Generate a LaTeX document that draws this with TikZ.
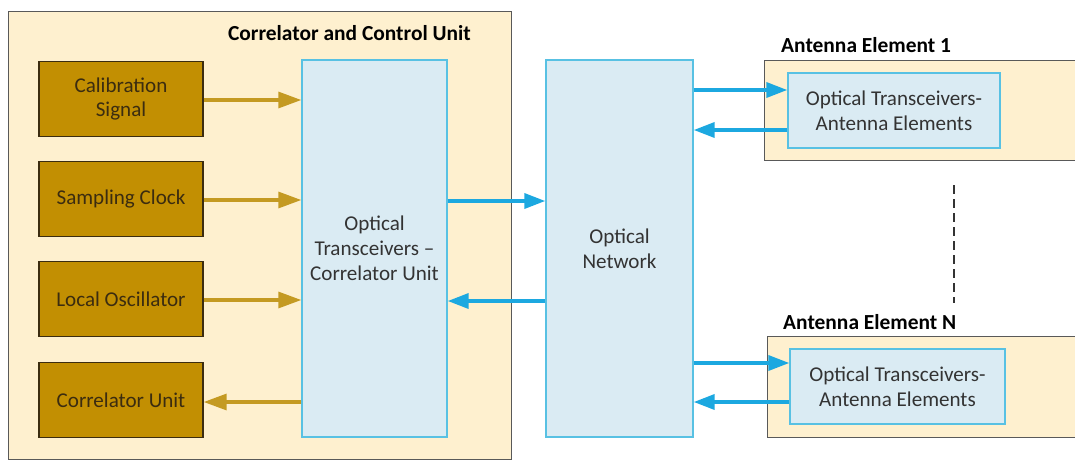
\documentclass[tikz,border=0pt]{standalone}
\usepackage{fontspec}
\setmainfont{Carlito}
\usetikzlibrary{arrows.meta, positioning}

\definecolor{cream}{HTML}{FEF0CF}
\definecolor{goldbox}{HTML}{C28F02}
\definecolor{goldline}{HTML}{C49A22}
\definecolor{goldtext}{HTML}{3B2C10}
\definecolor{paleblue}{HTML}{DAEBF3}
\definecolor{cyanline}{HTML}{58C1E3}
\definecolor{fiber}{HTML}{1CA8E0}

\tikzset{
  unit/.style={draw=gray!70!black, fill=cream, line width=0.8pt, anchor=north west},
  source/.style={draw=goldtext, fill=goldbox, text=goldtext, line width=0.8pt,
    minimum width=3.28cm, minimum height=1.5cm, align=center},
  trx/.style={draw=cyanline, fill=paleblue, text=black!80, line width=0.8pt, align=center},
  title/.style={font=\fontsize{12.2}{14.5}\selectfont\bfseries, text=black},
  goldarrow/.style={goldline, line width=1.8pt, -{Triangle[length=0.46cm, width=0.32cm]}},
  fiberarrow/.style={fiber, line width=2pt, -{Triangle[length=0.42cm, width=0.3cm]}}
}

\begin{document}
\begin{tikzpicture}[x=0.02cm, y=-0.02cm, font=\fontsize{12}{14.2}\selectfont]
    \useasboundingbox (0,0) rectangle (1075,460);

    % 1. Correlator and control unit with its sources
    \node[unit, minimum width=10.06cm, minimum height=8.96cm] (ccu) at (8,11) {};
    \node[title, anchor=east] (ccutitle) at (477,33) {Correlator and Control Unit};

    \node[source] (cal) at (121,99) {Calibration\\Signal};
    \node[source] (clk) at (121,199) {Sampling Clock};
    \node[source] (lo)  at (121,299) {Local Oscillator};
    \node[source] (cor) at (121,400) {Correlator Unit};

    \node[trx, minimum width=2.9cm, minimum height=7.54cm] (corr) at (374.5,248.5)
        {Optical\\Transceivers --\\Correlator Unit};

    \draw[goldarrow] (cal.east |- 0,100) -- (corr.west |- 0,100);
    \draw[goldarrow] (clk.east |- 0,200) -- (corr.west |- 0,200);
    \draw[goldarrow] (lo.east |- 0,300) -- (corr.west |- 0,300);
    \draw[goldarrow] (corr.west |- 0,402) -- (cor.east |- 0,402);

    % 2. Optical network
    \node[trx, minimum width=2.94cm, minimum height=7.54cm] (net) at (619.5,248.5)
        {Optical\\Network};

    \draw[fiberarrow] (corr.east |- 0,201) -- (net.west |- 0,201);
    \draw[fiberarrow] (net.west |- 0,301) -- (corr.east |- 0,301);

    % 3. Antenna elements 1 ... N
    \node[unit, minimum width=6.6cm, minimum height=2cm] (ant1) at (764,60) {};
    \node[title, anchor=west] (ant1title) at (775,45) {Antenna Element 1};
    \node[trx, minimum width=4.24cm, minimum height=1.5cm] (ant1trx) at (894,110.5)
        {Optical Transceivers-\\Antenna Elements};

    \node[unit, minimum width=6.6cm, minimum height=2.02cm] (antN) at (767,336) {};
    \node[title, anchor=west] (antNtitle) at (777,322) {Antenna Element N};
    \node[trx, minimum width=4.3cm, minimum height=1.5cm] (antNtrx) at (897.5,386.5)
        {Optical Transceivers-\\Antenna Elements};

    \draw[fiberarrow] (net.east |- 0,90) -- (ant1trx.west |- 0,90);
    \draw[fiberarrow] (ant1trx.west |- 0,130) -- (net.east |- 0,130);
    \draw[fiberarrow] (net.east |- 0,363) -- (antNtrx.west |- 0,363);
    \draw[fiberarrow] (antNtrx.west |- 0,402) -- (net.east |- 0,402);

    \coordinate (dotstop) at (954,185);
    \coordinate (dotsbot) at (954,303);
    \draw[black!80, line width=0.6pt, dash pattern=on 5pt off 3pt] (dotstop) -- (dotsbot);
\end{tikzpicture}
\end{document}
